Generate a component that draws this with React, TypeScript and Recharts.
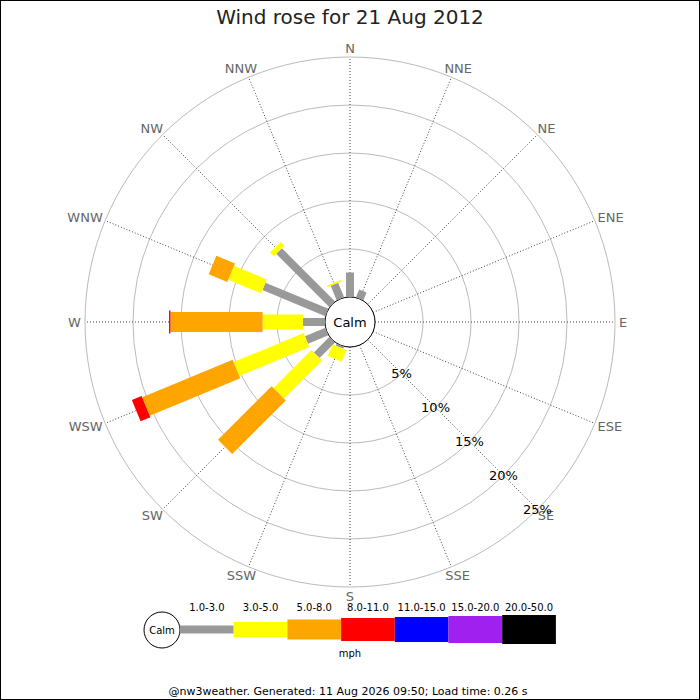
import {
    RadarChart,
    Radar,
    PolarGrid,
    PolarAngleAxis,
    PolarRadiusAxis,
} from "recharts";

const directions = ["N", "NNE", "NE", "ENE", "E", "ESE", "SE", "SSE", "S", "SSW", "SW", "WSW", "W", "WNW", "NW", "NNW"];

// % of the day per direction, one array per speed band (mph)
const speed1to3 = [2.55, 0.9, 0, 0, 0, 0, 0, 0, 0, 0.25, 2.3, 2.3, 2.3, 7.1, 7.85, 1.65];
const speed3to5 = [0, 0, 0, 0, 0, 0, 0, 0, 0, 1.3, 5.6, 7.9, 4.2, 3.7, 0.55, 0.15];
const speed5to8 = [0, 0, 0, 0, 0, 0, 0, 0, 0, 0, 7.9, 10.2, 9.6, 2.1, 0, 0];
const speed8to11 = [0, 0, 0, 0, 0, 0, 0, 0, 0, 0, 0, 1.1, 0.15, 0, 0, 0];
const speed11to15 = [0, 0, 0, 0, 0, 0, 0, 0, 0, 0, 0, 0, 0, 0, 0, 0];
const speed15to20 = [0, 0, 0, 0, 0, 0, 0, 0, 0, 0, 0, 0, 0, 0, 0, 0];
const speed20to50 = [0, 0, 0, 0, 0, 0, 0, 0, 0, 0, 0, 0, 0, 0, 0, 0];

const bandLabels = ["1.0-3.0", "3.0-5.0", "5.0-8.0", "8.0-11.0", "11.0-15.0", "15.0-20.0", "20.0-50.0"];
const bandColors = ["#999999", "#ffff00", "#ffa500", "#ff0000", "#0000ff", "#a020f0", "#000000"];
const bandWidths = [8, 15, 20, 23, 25, 27, 29];
const radiusTicks = [0, 5, 10, 15, 20, 25];

const bands = [speed1to3, speed3to5, speed5to8, speed8to11, speed11to15, speed15to20, speed20to50];

const CX = 350;
const CY = 322;
const INNER = 25;
const OUTER = 265;
const FONT = "DejaVu Sans, sans-serif";

// stacked ranges [start, end] for each band so the radar gives base + end points
const data = directions.map((dir, i) => {
    const row: any = { dir };
    let acc = 0;
    bands.forEach((vals, b) => {
        row[`b${b}`] = [acc, acc + vals[i]];
        acc += vals[i];
    });
    return row;
});

const makeBarShape = (color: string, width: number) => (props: any) => {
    const points = props.points || [];
    const base = props.baseLinePoints || [];
    return (
        <g>
            {points.map((p: any, i: number) => {
                const b = base[i];
                if (!b || !Array.isArray(p.value) || p.value[1] - p.value[0] <= 0) return null;
                return (
                    <line key={i} x1={b.x} y1={b.y} x2={p.x} y2={p.y} stroke={color} strokeWidth={width} />
                );
            })}
        </g>
    );
};

const charW: Record<string, number> = { N: 9.7, E: 8.2, S: 8.3, W: 12.9 };

const DirTick = (props: any) => {
    const { x, y, payload } = props;
    const cx = props.cx ?? CX;
    const cy = props.cy ?? CY;
    const dx = x - cx;
    const dy = y - cy;
    const d = Math.hypot(dx, dy) || 1;
    const ux = dx / d;
    const uy = dy / d;
    const label = String(payload.value);
    const w = label.split("").reduce((s, c) => s + (charW[c] || 9), 0);
    const r = OUTER + 4;
    const tx = cx + ux * r + ux * w / 2;
    const ty = cy + uy * r + uy * 5;
    return (
        <text x={tx} y={ty} textAnchor="middle" dominantBaseline="central"
            fontSize={13} fill="#666" fontFamily={FONT}>
            {label}
        </text>
    );
};

const PctTick = (props: any) => {
    const { x, y, payload } = props;
    if (!payload || payload.value === 0) return <g />;
    return (
        <text x={x} y={y} textAnchor="middle" dominantBaseline="central" fontSize={13} fill="#000" fontFamily={FONT}>
            {payload.value}%
        </text>
    );
};

const LEG_X = 180;
const LEG_W = 53.7;
const LEG_Y = 629.5;

export default function App() {
    return (
        <div style={{ position: "absolute", left: 0, top: 0, width: 700, height: 700, background: "#fff", fontFamily: FONT }}>
            <RadarChart width={700} height={700} data={data} cx={CX} cy={CY}
                innerRadius={INNER} outerRadius={OUTER} margin={{ top: 0, right: 0, bottom: 0, left: 0 }}>
                <PolarGrid gridType="circle" radialLines={false} stroke="#bbbbbb" />
                <PolarGrid gridType="circle" polarRadius={[]} stroke="#444444" strokeDasharray="1 2" />
                <PolarAngleAxis dataKey="dir" tick={DirTick} tickLine={false} axisLine={false} />
                <PolarRadiusAxis angle={-45} domain={[0, 25]} ticks={radiusTicks} type="number"
                    axisLine={false} tick={PctTick} />
                {bands.map((_, b) => (
                    <Radar key={b} dataKey={`b${b}`} isAnimationActive={false} fill="none" stroke="none"
                        shape={makeBarShape(bandColors[b], bandWidths[b])} />
                ))}
                <circle cx={CX} cy={CY} r={INNER} fill="#fff" stroke="#000" />
                <text x={CX} y={CY} textAnchor="middle" dominantBaseline="central" fontSize={13} fontFamily={FONT}>Calm</text>
                <text x={350} y={24} textAnchor="middle" fontSize={20} fill="#222" fontFamily={FONT}>
                    Wind rose for 21 Aug 2012
                </text>
                <circle cx={162} cy={630} r={18} fill="#fff" stroke="#000" />
                <text x={162} y={630} textAnchor="middle" dominantBaseline="central" fontSize={10} fontFamily={FONT}>Calm</text>
                {bandLabels.map((lab, b) => (
                    <g key={lab}>
                        <rect x={LEG_X + b * LEG_W} y={LEG_Y - bandWidths[b] / 2} width={LEG_W} height={bandWidths[b]} fill={bandColors[b]} />
                        <text x={LEG_X + b * LEG_W + LEG_W / 2} y={610.5} textAnchor="middle" fontSize={10} fontFamily={FONT}>{lab}</text>
                    </g>
                ))}
                <text x={350} y={657} textAnchor="middle" fontSize={10} fontFamily={FONT}>mph</text>
                <text x={348} y={695} textAnchor="middle" fontSize={11} fontFamily={FONT}>
                    @nw3weather. Generated: 11 Aug 2026 09:50; Load time: 0.26 s
                </text>
                <rect x={0.5} y={0.5} width={699} height={699} fill="none" stroke="#000" />
            </RadarChart>
        </div>
    );
}
